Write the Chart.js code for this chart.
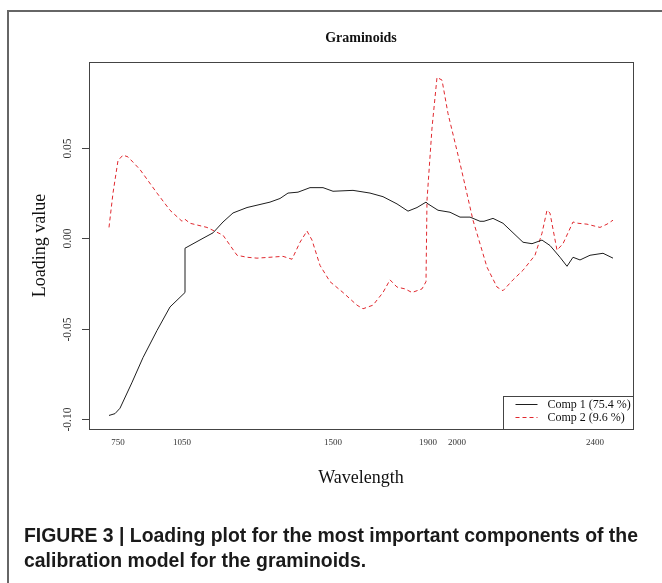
<!DOCTYPE html>
<html><head><meta charset="utf-8">
<script src="https://cdn.jsdelivr.net/npm/chart.js@4/dist/chart.umd.min.js"></script>
<style>
html,body{margin:0;padding:0;background:#fff;}
#wrap{position:relative;width:662px;height:583px;overflow:hidden;background:#fff;}
#frame{position:absolute;left:7px;top:10px;width:720px;height:720px;border-left:2px solid #666;border-top:2px solid #666;box-sizing:border-box;}
#c{position:absolute;left:0;top:0;}
#cap{position:absolute;left:24px;top:523px;font-family:"Liberation Sans Narrow","Liberation Sans",Arial,sans-serif;font-weight:bold;font-size:20px;line-height:25px;color:#1a1a1a;white-space:nowrap;transform-origin:0 0;}
</style></head>
<body><div id="wrap"><div id="frame"></div><canvas id="c" width="662" height="583"></canvas>
<div id="cap"><div id="l1">FIGURE 3 | Loading plot for the most important components of the</div><div id="l2">calibration model for the graminoids.</div></div></div>
<script>
// Band index (x) and loading values (y)
const comp1X = [0, 1.5, 2.75, 5.7, 8.5, 12, 15.25, 19, 19, 23.5, 26, 28.5, 31, 34.5, 40.25, 42.75, 44.75, 47.25, 50.25, 53.5, 56, 61, 65.25, 68.5, 72, 74.75, 77, 79.25, 79.75, 82.25, 85.25, 87.75, 90.25, 92.75, 93.75, 96, 98.5, 103.5, 105.75, 108.25, 110.25, 112.75, 114.5, 116, 117.75, 120.25, 123.5, 126];
const comp1Y = [-0.098, -0.097, -0.094, -0.080, -0.066, -0.051, -0.038, -0.030, -0.0055, 0.000, 0.003, 0.009, 0.014, 0.017, 0.020, 0.022, 0.025, 0.0255, 0.028, 0.028, 0.026, 0.0265, 0.025, 0.023, 0.019, 0.015, 0.017, 0.020, 0.019, 0.0155, 0.0144, 0.0117, 0.0117, 0.0094, 0.0094, 0.011, 0.0083, -0.0022, -0.003, -0.001, -0.004, -0.0105, -0.0155, -0.0105, -0.012, -0.0094, -0.0083, -0.011];
const comp2X = [0, 1, 2.25, 3.5, 4.75, 7.75, 12, 15.25, 18.25, 19, 20.25, 24.5, 28.5, 32, 34.5, 37, 40.25, 43.5, 45.75, 47.75, 49.5, 50.75, 52.75, 55.25, 58.5, 62, 63.5, 66, 68.5, 70.25, 72, 74, 75.75, 78.25, 79.25, 79.5, 80.75, 82, 83.25, 84.75, 87.75, 91, 94.5, 97, 98.5, 101, 103.5, 106.5, 108.25, 109.5, 110.25, 112, 113.5, 116, 117.25, 119.5, 122.75, 124.5, 126];
const comp2Y = [0.006, 0.025, 0.043, 0.046, 0.045, 0.038, 0.025, 0.0155, 0.0094, 0.0105, 0.0083, 0.006, 0.0017, -0.0094, -0.0105, -0.011, -0.0105, -0.010, -0.0116, -0.0022, 0.004, -0.001, -0.015, -0.024, -0.030, -0.037, -0.039, -0.037, -0.030, -0.023, -0.027, -0.028, -0.030, -0.028, -0.024, 0.021, 0.061, 0.089, 0.0875, 0.069, 0.0415, 0.010, -0.016, -0.027, -0.029, -0.023, -0.0177, -0.0094, 0.0028, 0.0155, 0.0139, -0.0066, -0.003, 0.009, 0.0083, 0.0078, 0.006, 0.0078, 0.010];
const seriesLabels = ['Comp 1 (75.4 %)', 'Comp 2 (9.6 %)'];
const xTickPos = [2.25, 18.25, 56, 79.75, 87, 121.5];
const xTickLabels = ['750', '1050', '1500', '1900', '2000', '2400'];
const yTickValues = [-0.10, -0.05, 0.00, 0.05];
const yTickLabels = ['-0.10', '-0.05', '0.00', '0.05'];

const SERIF = '"Liberation Serif", "Times New Roman", serif';
const toPts = (xs, ys) => xs.map((x, i) => ({x: x, y: ys[i]}));

const framePlugin = {
  id: 'framePlugin',
  afterDraw(chart) {
    const ctx = chart.ctx, a = chart.chartArea;
    const ys = chart.scales.y;
    ctx.save();
    ctx.strokeStyle = '#444';
    ctx.lineWidth = 1;
    ctx.strokeRect(Math.round(a.left) + 0.5, Math.round(a.top) + 0.5, Math.round(a.right - a.left), Math.round(a.bottom - a.top));
    // y ticks + rotated labels
    ctx.fillStyle = '#333';
    ctx.font = '11.5px ' + SERIF;
    ctx.textAlign = 'center';
    ctx.textBaseline = 'middle';
    yTickValues.forEach((v, i) => {
      const y = Math.round(ys.getPixelForValue(v)) + 0.5;
      ctx.beginPath();
      ctx.moveTo(a.left - 7, y);
      ctx.lineTo(a.left, y);
      ctx.stroke();
      ctx.save();
      ctx.translate(a.left - 21, y);
      ctx.rotate(-Math.PI / 2);
      ctx.fillText(yTickLabels[i], 0, 0);
      ctx.restore();
    });
    // legend box
    const bl = Math.round(a.right - 130) + 0.5, bt = Math.round(a.bottom - 33) + 0.5;
    ctx.fillStyle = '#fff';
    ctx.fillRect(bl, bt, a.right - bl, a.bottom - bt);
    ctx.strokeRect(bl, bt, Math.round(a.right) - bl + 0.5, Math.round(a.bottom) - bt + 0.5);
    ctx.font = '12px ' + SERIF;
    ctx.textAlign = 'left';
    chart.data.datasets.forEach((ds, i) => {
      const yy = bt + 7.5 + i * 13;
      ctx.save();
      ctx.strokeStyle = ds.borderColor;
      ctx.lineWidth = 1;
      ctx.setLineDash(ds.borderDash || []);
      ctx.beginPath();
      ctx.moveTo(bl + 12, Math.round(yy) + 0.5);
      ctx.lineTo(bl + 34, Math.round(yy) + 0.5);
      ctx.stroke();
      ctx.restore();
      ctx.fillStyle = '#111';
      ctx.fillText(ds.label, bl + 44, yy + 0.5);
    });
    ctx.restore();
  }
};

new Chart(document.getElementById('c'), {
  type: 'line',
  data: {
    datasets: [
      {label: seriesLabels[0], data: toPts(comp1X, comp1Y), borderColor: '#1e1e1e', borderWidth: 1, pointRadius: 0, tension: 0, fill: false},
      {label: seriesLabels[1], data: toPts(comp2X, comp2Y), borderColor: '#e0282e', borderWidth: 1, borderDash: [4, 3], pointRadius: 0, tension: 0, fill: false}
    ]
  },
  options: {
    responsive: false,
    animation: false,
    layout: {padding: {left: 0, top: 29.6, right: 29, bottom: 94}},
    plugins: {
      legend: {display: false},
      tooltip: {enabled: false},
      title: {display: true, fullSize: false, text: 'Graminoids', color: '#111', font: {family: SERIF, size: 14, weight: 'bold'}, padding: {top: 0, bottom: 15.6}}
    },
    scales: {
      x: {
        type: 'linear', min: -5, max: 131,
        grid: {display: false, drawTicks: false},
        border: {display: false},
        afterBuildTicks: s => { s.ticks = xTickPos.map(v => ({value: v})); },
        afterFit: s => { s.height = 60; },
        ticks: {autoSkip: false, maxRotation: 0, minRotation: 0, padding: 8, color: '#333', font: {family: SERIF, size: 9},
          callback: (v, i) => xTickLabels[i]},
        title: {display: true, text: 'Wavelength', color: '#111', font: {family: SERIF, size: 18}, padding: {top: 0, bottom: 0}}
      },
      y: {
        type: 'linear', min: -0.1055, max: 0.0975,
        grid: {display: false, drawTicks: false},
        border: {display: false},
        afterBuildTicks: s => { s.ticks = yTickValues.map(v => ({value: v})); },
        afterFit: s => { s.width = 89; },
        ticks: {display: false, callback: (v, i) => yTickLabels[i]},
        title: {display: true, text: 'Loading value', color: '#111', font: {family: SERIF, size: 18}, padding: {top: 29, bottom: 0}}
      }
    }
  },
  plugins: [framePlugin]
});

// fit caption width
(function () {
  const l1 = document.getElementById('l1');
  const cap = document.getElementById('cap');
  const w = l1.getBoundingClientRect().width;
  if (w > 0) cap.style.transform = 'scaleX(' + (614 / w) + ')';
})();
</script>
</body></html>
